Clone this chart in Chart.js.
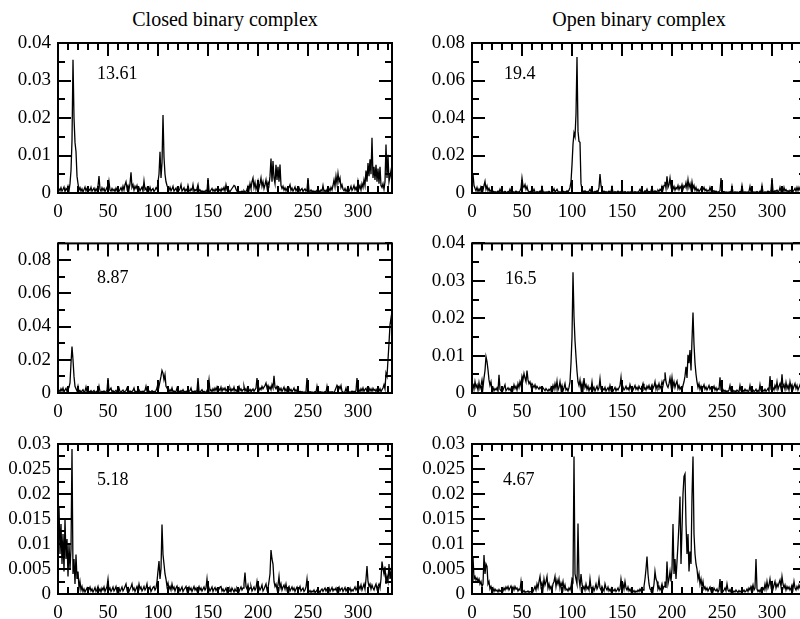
<!DOCTYPE html>
<html>
<head>
<meta charset="utf-8">
<script src="https://cdn.jsdelivr.net/npm/chart.js@4.4.0/dist/chart.umd.min.js"></script>
<style>
  html, body { margin: 0; padding: 0; background: #fff; }
  #page { position: relative; width: 800px; height: 619px; overflow: hidden; background: #fff; }
  #page canvas { position: absolute; }
  .title {
    position: absolute; width: 334px; text-align: center; color: #000;
    font-family: "Liberation Serif", "DejaVu Serif", serif; font-size: 20px; line-height: 20px;
  }
</style>
</head>
<body>
<div id="page">
  <div class="title" style="left:58px; top:9px;">Closed binary complex</div>
  <div class="title" style="left:472px; top:9px;">Open binary complex</div>
</div>
<script>
// All series values are in units of 1e-4, one per residue (residue 1..334)
const UNIT = 1e-4;

// Closed binary complex, top panel
const closedTop = [
  12,6,14,5,10,16,4,12,8,18,6,25,60,140,355,200,135,110,45,25,
  8,14,5,11,3,9,16,6,12,4,10,7,15,5,9,13,4,11,6,18,
  45,10,5,14,7,12,4,9,15,6,30,8,5,12,6,10,4,13,7,11,
  5,9,14,6,18,8,22,30,12,20,9,25,55,15,22,8,18,12,20,7,
  14,6,11,16,5,32,9,13,4,10,7,15,5,9,12,4,8,14,10,30,
  50,110,40,80,208,95,50,30,20,14,8,15,6,11,18,5,9,13,4,10,
  7,12,22,5,9,14,4,10,6,20,8,5,11,7,22,4,9,6,12,22,
  5,8,3,6,2,5,3,7,4,40,6,3,8,12,5,9,4,11,7,14,
  6,10,4,12,8,15,5,22,9,12,6,4,8,12,16,20,18,10,5,3,
  2,4,2,5,3,6,2,4,10,18,8,25,12,30,40,15,28,10,20,32,
  14,25,40,18,30,12,22,35,15,28,20,45,92,30,85,40,25,75,35,70,
  30,76,20,12,18,8,14,6,12,9,15,22,7,13,5,10,16,6,11,8,
  14,5,9,12,4,8,11,5,9,40,6,4,8,3,6,2,5,3,7,4,
  6,3,8,5,20,4,7,3,9,5,12,6,15,8,20,35,18,45,25,52,
  30,40,15,22,10,6,12,4,9,15,5,10,18,7,12,20,9,15,6,30,
  12,20,8,25,15,35,20,60,30,80,45,90,50,147,40,70,35,75,30,65,
  25,70,20,15,25,10,30,129,40,102,30,45,60,20
];

// Open binary complex, top panel
const openTop = [
  101,40,25,12,30,8,22,10,35,30,15,40,62,20,38,12,25,8,15,5,
  10,4,8,3,6,10,4,20,6,3,7,4,9,5,3,8,5,20,6,4,
  8,3,6,10,4,7,3,12,25,80,40,30,45,20,35,12,8,5,10,4,
  7,20,5,3,8,4,6,10,5,30,8,4,6,3,7,4,9,5,3,6,
  10,22,6,12,20,8,4,7,3,6,10,4,8,5,12,6,15,30,60,150,
  260,320,300,420,725,330,275,270,50,20,10,6,12,5,8,4,10,20,6,3,
  7,4,9,5,12,6,30,101,40,15,6,10,4,8,3,6,10,4,8,30,
  6,3,8,4,6,10,3,7,4,20,6,3,8,5,3,7,4,6,3,20,
  5,3,8,4,6,3,10,20,5,8,4,6,12,5,20,4,8,6,12,30,
  8,5,12,6,10,15,8,20,12,35,18,40,60,25,89,30,45,80,35,50,
  20,35,15,30,22,40,18,35,25,45,20,38,30,55,25,71,30,50,20,60,
  25,40,15,30,10,20,8,15,25,10,18,30,12,20,8,15,10,30,12,18,
  8,12,5,10,6,4,8,12,80,10,5,8,4,6,3,5,4,7,3,35,
  5,3,7,4,6,3,5,8,4,40,6,3,7,4,6,3,8,35,5,4,
  7,3,6,4,8,5,3,10,6,40,5,3,7,4,6,10,4,8,12,80,
  10,6,12,8,15,6,10,30,8,14,6,30,10,18,8,12,6,15,10,20,
  8,15,25,10,30,12,30,15,10,20,8,15,10,12
];

// Closed binary complex, middle panel
const closedMid = [
  20,8,25,12,30,6,18,28,10,22,35,60,180,280,200,100,40,25,12,40,
  8,15,5,12,20,6,10,36,8,4,10,6,14,5,9,15,4,8,12,6,
  40,8,4,10,6,12,5,9,15,90,12,20,30,8,14,5,10,16,6,12,
  30,8,5,12,18,6,10,14,30,8,5,12,7,10,15,30,6,10,4,12,
  20,6,10,5,12,8,15,40,10,6,12,5,8,14,6,10,5,15,30,60,
  40,70,100,136,120,80,110,40,30,15,8,20,10,30,6,12,5,10,30,8,
  12,5,15,8,20,6,10,4,12,6,9,15,30,6,10,4,12,8,15,90,
  10,5,12,20,6,10,4,8,14,30,80,12,20,8,25,12,30,15,35,10,
  25,15,35,10,28,18,30,12,22,8,20,30,10,25,15,35,12,20,8,28,
  40,15,25,10,20,40,12,25,8,18,12,22,8,15,25,10,20,30,90,25,
  15,30,20,40,25,35,45,60,30,45,25,38,20,50,30,104,35,25,40,20,
  30,15,28,10,22,35,12,25,8,20,30,12,22,8,18,30,10,20,8,15,
  6,10,4,8,3,6,4,8,90,6,3,8,4,6,3,5,8,4,40,6,
  3,8,4,6,3,5,8,4,40,6,3,7,4,8,5,3,15,30,46,35,
  40,25,45,10,6,4,8,30,5,3,7,4,8,12,5,10,6,14,90,10,
  20,8,25,12,30,10,22,28,8,20,30,12,25,10,28,15,22,8,25,30,
  12,25,8,20,30,50,25,120,100,200,300,410,450,400
];

// Open binary complex, middle panel
const openMid = [
  25,10,30,15,22,8,28,12,20,35,15,40,60,97,84,62,35,20,30,10,
  15,6,12,8,14,5,49,10,6,12,8,15,22,6,10,14,8,12,5,15,
  9,22,12,18,8,25,15,30,20,45,35,52,40,30,60,35,25,30,18,25,
  20,15,22,12,18,14,10,16,12,8,14,10,6,12,8,5,10,6,15,8,
  20,10,25,12,32,8,15,30,10,20,6,14,25,8,12,5,15,30,80,150,
  323,204,140,97,58,30,20,35,12,25,8,40,15,22,10,18,6,14,10,30,
  8,15,5,12,18,8,14,38,10,6,12,8,15,5,10,14,6,20,8,12,
  5,10,15,6,12,8,14,20,42,10,16,8,12,18,10,14,8,22,12,16,
  8,14,20,10,15,8,18,12,10,16,25,10,14,8,18,12,20,10,15,22,
  12,18,30,10,20,14,25,12,18,30,20,35,55,30,20,15,25,40,20,42,
  18,30,15,25,32,12,20,10,15,8,20,30,45,70,40,102,80,115,60,142,
  215,130,80,50,30,15,25,10,18,8,15,22,10,16,8,14,20,10,15,8,
  12,18,8,14,6,12,10,42,8,5,9,4,7,3,6,4,8,20,5,3,
  7,4,6,3,8,5,4,20,6,3,7,4,10,5,8,4,6,20,5,3,
  8,4,6,10,3,7,4,22,6,3,8,5,10,4,8,12,5,45,10,6,
  14,8,20,12,30,10,18,25,12,50,15,22,10,28,12,20,8,30,15,22,
  10,18,25,12,20,8,15,22,10,18,12,20,10,15
];

// Closed binary complex, bottom panel
const closedBot = [
  175,80,140,60,120,45,150,70,110,35,100,50,90,290,40,70,20,79,30,45,
  12,25,8,15,5,10,4,8,12,5,9,14,6,10,4,8,13,5,9,15,
  6,10,4,12,8,14,5,10,15,30,8,12,5,9,14,6,10,15,5,8,
  12,5,9,14,6,10,15,20,8,12,5,10,14,20,8,12,5,10,15,8,
  20,10,14,6,10,15,8,12,20,6,10,14,5,9,13,15,8,12,25,46,
  66,30,50,139,79,60,40,30,15,22,10,15,8,20,10,14,6,12,16,8,
  12,6,10,14,5,9,12,15,6,10,14,8,12,5,10,15,8,12,6,10,
  15,8,12,6,10,14,8,12,30,8,12,6,10,14,5,10,13,7,11,6,
  10,14,15,6,10,5,8,12,4,9,6,10,5,12,8,4,10,6,12,8,
  5,10,14,8,12,20,43,15,10,18,8,12,15,6,10,14,8,12,25,10,
  14,8,12,18,6,10,15,20,8,12,25,40,88,70,60,25,15,20,10,18,
  35,12,20,8,14,18,10,20,8,12,15,6,10,14,8,12,5,10,14,6,
  10,15,6,9,12,5,8,14,30,6,4,7,3,6,4,8,3,5,8,4,
  6,3,8,10,5,9,12,6,10,8,12,5,9,13,6,10,8,12,5,10,
  14,6,10,12,5,9,13,6,10,4,8,12,5,9,6,10,14,8,12,20,
  15,10,18,8,14,20,10,30,56,25,15,20,10,18,12,8,15,20,10,15,
  20,12,30,65,50,40,55,20,35,25,60,30,45,20
];

// Open binary complex, bottom panel
const openBot = [
  75,30,35,28,32,25,30,20,25,15,20,78,40,60,55,20,25,10,15,8,
  12,5,10,6,8,4,9,5,7,10,6,12,8,14,10,15,8,12,16,10,
  14,8,15,10,12,6,10,8,25,6,4,7,3,5,4,6,3,5,4,7,
  5,10,15,8,20,12,25,35,15,22,10,30,18,25,35,12,20,10,15,8,
  20,25,35,15,28,20,30,12,22,15,25,10,18,8,10,6,12,8,15,30,
  25,275,40,30,20,141,30,15,40,20,10,15,8,20,10,14,8,30,12,8,
  14,6,12,20,10,15,30,12,8,15,10,6,20,12,8,14,6,10,5,12,
  8,6,10,5,8,12,6,10,30,15,20,10,25,12,8,14,6,10,5,8,
  4,7,3,6,4,8,5,10,6,12,8,15,30,50,75,40,20,10,8,12,
  6,20,45,30,25,10,15,8,12,20,10,15,25,12,65,20,30,45,25,50,
  140,40,70,30,65,100,140,195,60,130,200,235,240,140,80,120,45,85,60,195,
  275,120,80,60,50,30,40,20,30,15,25,10,14,8,12,6,10,14,6,10,
  5,12,8,6,10,4,8,30,6,10,5,8,12,6,20,8,5,9,4,7,
  3,6,4,8,5,3,7,4,6,3,5,8,4,6,10,5,12,8,15,10,
  18,8,12,70,10,5,8,4,10,6,12,8,20,10,25,12,18,30,15,22,
  10,18,25,12,20,15,22,28,15,35,20,12,18,8,15,10,14,8,12,18,
  10,25,12,8,15,10,18,12,8,14,10,16,8,12
];

// Tick labels
const xTickLabels = ['0', '50', '100', '150', '200', '250', '300'];
const yTicksClosedTop = ['0', '0.01', '0.02', '0.03', '0.04'];
const yTicksOpenTop = ['0', '0.02', '0.04', '0.06', '0.08'];
const yTicksClosedMid = ['0', '0.02', '0.04', '0.06', '0.08'];
const yTicksOpenMid = ['0', '0.01', '0.02', '0.03', '0.04'];
const yTicksBottom = ['0', '0.005', '0.01', '0.015', '0.02', '0.025', '0.03'];

const X_MAX = 334;
const FONT = '"Liberation Serif", "DejaVu Serif", serif';

// Layout of the grid (page pixels)
const COLS = [
  { canvasX: 0, canvasW: 405, left: 58, right: 392 },
  { canvasX: 410, canvasW: 410, left: 472, right: 806 }
];
const ROWS = [
  { canvasY: 0, canvasH: 225, top: 43, bottom: 193 },
  { canvasY: 225, canvasH: 200, top: 241, bottom: 393 },
  { canvasY: 425, canvasH: 194, top: 444, bottom: 594 }
];

const panels = [
  { values: closedTop, yLabels: yTicksClosedTop, yMax: 0.04, yMinor: 0.005, yMajor: 0.01, note: '13.61', col: 0, row: 0, noteDx: 39, noteDy: 31 },
  { values: openTop, yLabels: yTicksOpenTop, yMax: 0.08, yMinor: 0.01, yMajor: 0.02, note: '19.4', col: 1, row: 0, noteDx: 32, noteDy: 31 },
  { values: closedMid, yLabels: yTicksClosedMid, yMax: 0.09, yMinor: 0.01, yMajor: 0.02, note: '8.87', col: 0, row: 1, noteDx: 39, noteDy: 35 },
  { values: openMid, yLabels: yTicksOpenMid, yMax: 0.04, yMinor: 0.005, yMajor: 0.01, note: '16.5', col: 1, row: 1, noteDx: 33, noteDy: 36 },
  { values: closedBot, yLabels: yTicksBottom, yMax: 0.03, yMinor: 0.0025, yMajor: 0.005, note: '5.18', col: 0, row: 2, noteDx: 39, noteDy: 36 },
  { values: openBot, yLabels: yTicksBottom, yMax: 0.03, yMinor: 0.0025, yMajor: 0.005, note: '4.67', col: 1, row: 2, noteDx: 31, noteDy: 36 }
];

// Box, inward ticks on all four sides, and the panel's number
const framePlugin = {
  id: 'frame',
  afterDraw(chart) {
    const { ctx, chartArea: a, scales } = chart;
    const p = chart.options.plugins.frame;
    const MAJOR = 13, MINOR = 7;
    ctx.save();
    ctx.strokeStyle = '#000';
    ctx.lineWidth = 2;
    ctx.beginPath();
    // x ticks every 10, major every 50
    for (let v = 0; v <= X_MAX; v += 10) {
      const px = Math.round(scales.x.getPixelForValue(v));
      const len = v % 50 === 0 ? MAJOR : MINOR;
      ctx.moveTo(px, a.top); ctx.lineTo(px, a.top + len);
      ctx.moveTo(px, a.bottom); ctx.lineTo(px, a.bottom - len);
    }
    // y ticks
    const n = Math.round(p.yMax / p.yMinor);
    for (let i = 0; i <= n; i++) {
      const v = i * p.yMinor;
      const py = Math.round(scales.y.getPixelForValue(v));
      const r = v / p.yMajor;
      const len = Math.abs(r - Math.round(r)) < 1e-6 ? MAJOR : MINOR;
      ctx.moveTo(a.left, py); ctx.lineTo(a.left + len, py);
      ctx.moveTo(a.right, py); ctx.lineTo(a.right - len, py);
    }
    ctx.stroke();
    ctx.strokeRect(a.left, a.top, a.right - a.left, a.bottom - a.top);
    ctx.fillStyle = '#000';
    ctx.font = '18px ' + FONT;
    ctx.textBaseline = 'middle';
    ctx.textAlign = 'left';
    ctx.fillText(p.note, a.left + p.noteDx, a.top + p.noteDy);
    ctx.restore();
  }
};

const page = document.getElementById('page');

panels.forEach(p => {
  const col = COLS[p.col];
  const row = ROWS[p.row];
  const canvas = document.createElement('canvas');
  canvas.width = col.canvasW;
  canvas.height = row.canvasH;
  canvas.style.left = col.canvasX + 'px';
  canvas.style.top = row.canvasY + 'px';
  page.appendChild(canvas);

  new Chart(canvas, {
    type: 'line',
    data: {
      datasets: [{
        data: p.values.map((v, i) => ({ x: i + 1, y: v * UNIT })),
        borderColor: '#000',
        borderWidth: 1.3,
        pointRadius: 0,
        tension: 0,
        fill: false
      }]
    },
    options: {
      responsive: false,
      animation: false,
      events: [],
      layout: {
        padding: { top: row.top - row.canvasY, right: col.canvasX + col.canvasW - col.right, bottom: 0, left: 0 }
      },
      plugins: {
        legend: { display: false },
        tooltip: { enabled: false },
        frame: { yMax: p.yMax, yMinor: p.yMinor, yMajor: p.yMajor, note: p.note, noteDx: p.noteDx, noteDy: p.noteDy }
      },
      scales: {
        x: {
          type: 'linear',
          min: 0,
          max: X_MAX,
          grid: { display: false, drawTicks: false },
          border: { display: false },
          afterBuildTicks: s => { s.ticks = xTickLabels.map(t => ({ value: Number(t) })); },
          afterFit: s => { s.height = row.canvasY + row.canvasH - row.bottom; },
          ticks: {
            padding: 8, autoSkip: false, maxRotation: 0, color: '#000',
            font: { family: FONT, size: 19 },
            callback: (v, i) => xTickLabels[i]
          }
        },
        y: {
          type: 'linear',
          min: 0,
          max: p.yMax,
          grid: { display: false, drawTicks: false },
          border: { display: false },
          afterBuildTicks: s => { s.ticks = p.yLabels.map(t => ({ value: Number(t) })); },
          afterFit: s => { s.width = col.left - col.canvasX; },
          ticks: {
            padding: 7, autoSkip: false, color: '#000',
            font: { family: FONT, size: 19 },
            callback: (v, i) => p.yLabels[i]
          }
        }
      }
    },
    plugins: [framePlugin]
  });
});
</script>
</body>
</html>
